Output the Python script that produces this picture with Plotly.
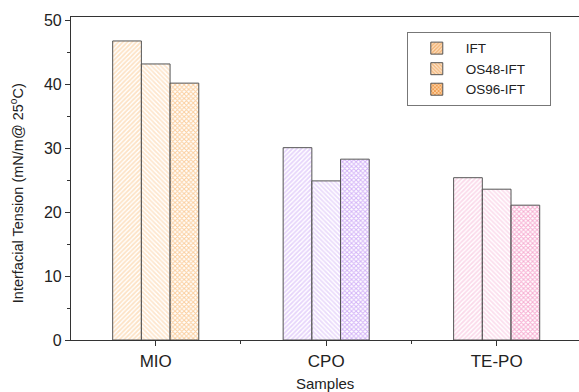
import plotly.graph_objects as go

# Sample groups and measured interfacial tension (mN/m @ 25 °C)
categories = ["MIO", "CPO", "TE-PO"]
ift = [46.8, 30.1, 25.4]
os48_ift = [43.2, 24.9, 23.6]
os96_ift = [40.2, 28.3, 21.1]

series_names = ["IFT", "OS48-IFT", "OS96-IFT"]
series_values = [ift, os48_ift, os96_ift]

# Per-sample colours for each series: light background, stronger hatch lines
fill_colors = [
    ["#fde2c4", "#e6d4fb", "#fbd9ea"],
    ["#fee6cd", "#eadbfb", "#fcdeed"],
    ["#fbcf9f", "#d4b4f8", "#f7aed2"],
]
hatch_colors = [
    ["#f2b070", "#b185ee", "#ee92c0"],
    ["#f3b87e", "#b890ee", "#ef9ec6"],
    ["#f09a4c", "#9c5cee", "#e64c9c"],
]
hatch_shapes = ["/", "\\", "x"]

xpos = list(range(len(categories)))
font_family = "Liberation Sans, Arial, sans-serif"
# invisible trailing run that widens the legend box
pad = "<span style='color:rgba(0,0,0,0)'>__.</span>"

fig = go.Figure()
for i, (name, vals, fc, hc, shp) in enumerate(zip(series_names, series_values, fill_colors, hatch_colors, hatch_shapes)):
    fig.add_trace(go.Bar(
        name=name + (pad if i == 1 else ""),
        x=xpos,
        y=vals,
        marker=dict(
            color=fc,
            line=dict(color="#555555", width=1),
            pattern=dict(shape=shp, bgcolor=fc, fgcolor=hc, size=3.2,
                         solidity=0.55, fillmode="replace"),
        ),
    ))

fig.update_layout(
    width=579,
    height=392,
    margin=dict(l=71, r=0, t=17, b=52),
    paper_bgcolor="white",
    plot_bgcolor="white",
    barmode="group",
    bargap=0.495,
    bargroupgap=0,
    font=dict(family=font_family, color="#222222"),
    showlegend=True,
    legend=dict(
        x=0.661, y=0.954, xanchor="left", yanchor="top",
        bordercolor="#777777", borderwidth=1,
        font=dict(size=13.5, family=font_family, color="#222222"),
        tracegroupgap=0, itemwidth=48,
        bgcolor="white",
    ),
    xaxis=dict(
        range=[-0.497, 2.483],
        tickmode="array",
        tickvals=xpos,
        ticktext=categories,
        ticks="outside",
        ticklen=5,
        tickcolor="#333333",
        tickfont=dict(size=17, family=font_family, color="#222222"),
        showline=True,
        linecolor="#333333",
        linewidth=1.2,
        mirror=True,
        showgrid=False,
        zeroline=False,
        minor=dict(tickvals=[0.5, 1.5], ticks="outside", ticklen=3, tickcolor="#333333"),
    ),
    yaxis=dict(
        range=[0, 50.55],
        tickvals=[0, 10, 20, 30, 40, 50],
        ticks="outside",
        ticklen=5,
        tickcolor="#333333",
        tickfont=dict(size=16, family=font_family, color="#222222"),
        showline=True,
        linecolor="#333333",
        linewidth=1.2,
        showgrid=False,
        zeroline=False,
        minor=dict(tickvals=[5, 15, 25, 35, 45], ticks="outside", ticklen=3, tickcolor="#333333"),
    ),
    annotations=[
        dict(
            text="Interfacial Tension (mN/m@ 25<sup>o</sup>C)",
            xref="paper", yref="paper",
            x=-0.106, y=0.455,
            xanchor="center", yanchor="middle",
            textangle=-90, showarrow=False,
            font=dict(size=14.5, family=font_family, color="#222222"),
        ),
        dict(
            text="Samples",
            xref="paper", yref="paper",
            x=0.5, y=-0.136,
            xanchor="center", yanchor="middle",
            showarrow=False,
            font=dict(size=15, family=font_family, color="#222222"),
        ),
    ],
)

fig.write_html("out.html")
